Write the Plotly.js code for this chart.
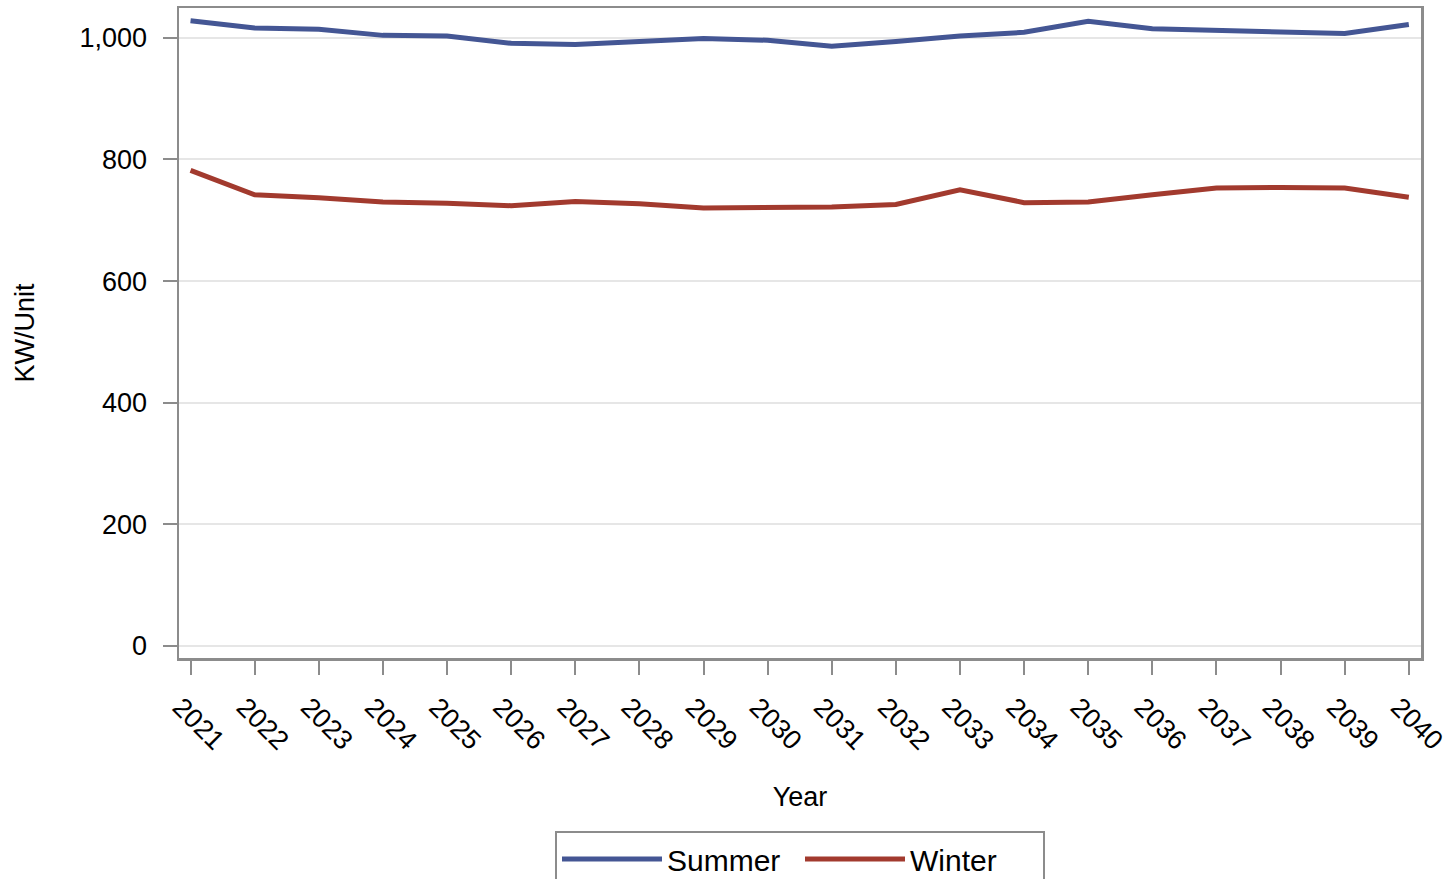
<!DOCTYPE html>
<html>
<head>
<meta charset="utf-8">
<script src="https://cdn.plot.ly/plotly-3.0.1.min.js"></script>
<style>html,body{margin:0;padding:0;background:#fff;}#chart{width:1452px;height:879px;}</style>
</head>
<body>
<div id="chart"></div>
<script>
var years = [2021,2022,2023,2024,2025,2026,2027,2028,2029,2030,2031,2032,2033,2034,2035,2036,2037,2038,2039,2040];
var summer = [1028,1016,1014,1004,1003,991,989,994,999,996,986,994,1003,1009,1027,1015,1012,1010,1007,1022];
var winter = [782,742,737,730,728,724,731,727,720,721,722,726,750,729,730,742,753,754,753,738];
var seriesNames = ['Summer','Winter'];
var yTicks = [0,200,400,600,800,1000];
var yTickText = ['0','200','400','600','800','1,000'];

var font = 'Liberation Sans, Arial, sans-serif';
var traces = [
  {x: years, y: summer, name: seriesNames[0], type: 'scatter', mode: 'lines',
   line: {color: '#445694', width: 5}},
  {x: years, y: winter, name: seriesNames[1], type: 'scatter', mode: 'lines',
   line: {color: '#A23A2E', width: 5}}
];
var layout = {
  width: 1452, height: 879,
  margin: {l: 179, r: 31, t: 8, b: 221},
  paper_bgcolor: '#fff', plot_bgcolor: '#fff',
  font: {family: font, color: '#000', size: 27},
  showlegend: true,
  legend: {orientation: 'h', x: 0.5, xanchor: 'center', xref: 'paper',
           y: 1 - 831/879, yref: 'container', yanchor: 'top',
           bordercolor: '#8c8c8c', borderwidth: 2, font: {size: 30, family: font},
           itemwidth: 100, entrywidth: 128, entrywidthmode: 'pixels', tracegroupgap: 0},
  xaxis: {
    range: [2020.82, 2040.19], tickvals: years, ticktext: years.map(String),
    tickangle: 45, ticks: 'outside', ticklen: 14, tickwidth: 2, tickcolor: '#8c8c8c',
    ticklabelstandoff: 6, ticklabelshift: -10, ticklabeloverflow: 'allow',
    showline: true, linecolor: '#8c8c8c', linewidth: 2.5, mirror: true,
    showgrid: false, zeroline: false,
    tickfont: {size: 27, family: font},
    title: {text: 'Year', font: {size: 27, family: font}, standoff: 33}
  },
  yaxis: {
    range: [-19.7, 1049], tickvals: yTicks, ticktext: yTickText,
    ticks: 'outside', ticklen: 14, tickwidth: 2, tickcolor: '#8c8c8c',
    ticklabelstandoff: 10,
    showline: true, linecolor: '#8c8c8c', linewidth: 2.5, mirror: true,
    showgrid: true, gridcolor: '#e6e6e6', gridwidth: 2, zeroline: false,
    tickfont: {size: 27, family: font},
    title: {text: 'KW/Unit', font: {size: 27, family: font}, standoff: 37}
  }
};
Plotly.newPlot('chart', traces, layout, {staticPlot: true, displayModeBar: false});
</script>
</body>
</html>
